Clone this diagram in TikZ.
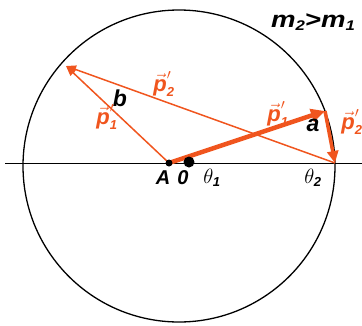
\documentclass[tikz,border=0pt]{standalone}
\usepackage{fontspec}
\usepackage{graphicx}
\setmainfont{Liberation Sans}
\usetikzlibrary{arrows.meta}
\definecolor{vecorange}{RGB}{240,85,30}
\newcommand{\subtxt}[1]{\textbf{\textit{\fontsize{13}{13}\selectfont #1}}}
\newcommand{\pv}[1]{$\vec{\textbf{\textit{p}}}'_{\subtxt{#1}}$}
\newcommand{\thv}[1]{$\theta_{\subtxt{#1}}$}
\newcommand{\msub}[1]{\raisebox{-0.1em}{\fontsize{14}{14}\selectfont #1}}
\begin{document}
\begin{tikzpicture}[x=1pt,y=-1pt,
    thinvec/.style={vecorange, line width=1.5pt, -{Triangle[length=10pt,width=8pt]}},
    thickvec/.style={vecorange, line width=4.5pt, -{Triangle[length=14pt,width=13pt]}},
    lbl/.style={font=\bfseries\itshape\fontsize{23}{23}\selectfont, inner sep=0pt},
    vlbl/.style={text=vecorange, font=\bfseries\itshape\fontsize{22}{22}\selectfont, inner sep=0pt},
    axlbl/.style={font=\bfseries\itshape\fontsize{20}{20}\selectfont, inner sep=0pt}]
    \useasboundingbox (0,0) rectangle (362,325);

    % Circle and axis
    \draw[line width=1.3pt] (179,166) circle (156pt);
    \draw[line width=0.9pt] (5,163) -- (362,163);

    % Points
    \coordinate (A)  at (169,163);
    \coordinate (O)  at (189,162);
    \coordinate (P1) at (325,111);
    \coordinate (P2) at (335,163);
    \coordinate (Q)  at (66,66);

    % Vectors
    \draw[thinvec] (A) -- (Q);
    \draw[thinvec] (P2) -- (Q);
    \draw[thickvec] (A) -- (P1);
    \draw[vecorange, line width=3.5pt, -{Triangle[length=12pt,width=11pt]}] (P1) -- (P2);
    \fill[black] (A) circle (3.5pt);
    \fill[black] (O) circle (5.5pt);

    % Labels
    \node[lbl] (mass) at (313,22) {\scalebox{1.2}[1]{m\msub{2}>m\msub{1}}};
    \node[vlbl] (p2top)   at (164,84)  {\pv{2}};
    \node[lbl]  (b)       at (120,98)  {b};
    \node[vlbl] (p1left)  at (107,117) {\pv{1}};
    \node[vlbl] (p1right) at (278,114) {\pv{1}};
    \node[lbl]  (a)       at (313,125) {a};
    \node[vlbl] (p2right) at (352,122) {\pv{2}};
    \node[axlbl] (Alab)  at (163,178) {A};
    \node[axlbl] (Olab)  at (183,178) {0};
    \node[axlbl] (th1)   at (212,178) {\thv{1}};
    \node[axlbl] (th2)   at (313,178) {\thv{2}};
\end{tikzpicture}
\end{document}
